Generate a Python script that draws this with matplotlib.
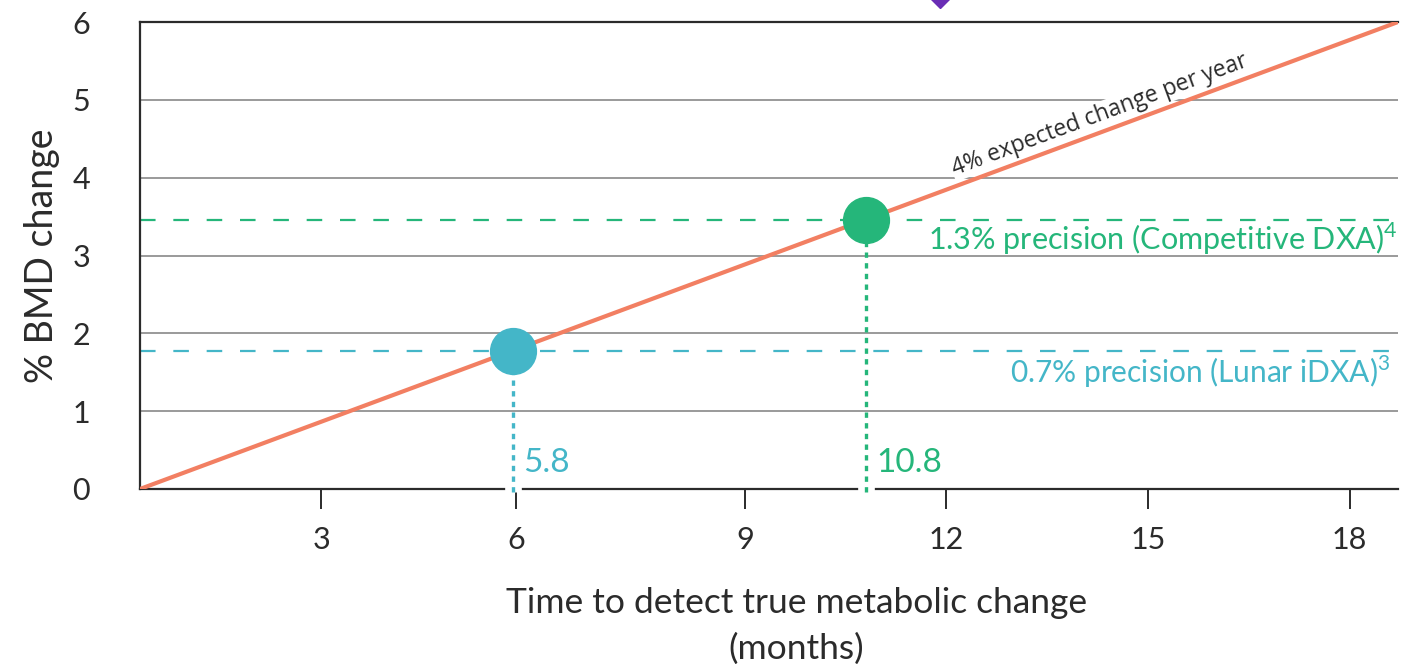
import matplotlib
matplotlib.use("Agg")
import matplotlib.pyplot as plt
import numpy as np

plt.rcParams['font.family'] = ['Lato', 'DejaVu Sans']
plt.rcParams['mathtext.fontset'] = 'custom'
plt.rcParams['mathtext.rm'] = 'Lato'

# ---- data ----
line_x = [0, 18.72]
line_y = [0, 6.0]
points_x = [5.55, 10.8]
points_y = [1.77, 3.46]
point_labels = ["5.8", "10.8"]
precision_labels = ["0.7% precision (Lunar iDXA)$^{\\mathrm{3}}$",
                    "1.3% precision (Competitive DXA)$^{\\mathrm{4}}$"]
purple_x = [11.9]
purple_y = [6.39]
xtick_pos = [2.7, 5.6, 9, 12, 15, 18]
xtick_labels = ["3", "6", "9", "12", "15", "18"]
ytick_pos = [0, 1, 2, 3, 4, 5, 6]
ytick_labels = ["0", "1", "2", "3", "4", "5", "6"]

ORANGE = "#F27F62"
BLUE = "#44B6C8"
GREEN = "#25B67A"
PURPLE = "#6A2DB5"
DARK = "#2b2b2b"

fig = plt.figure(figsize=(14.24, 6.64), dpi=100)
ax = fig.add_axes([140/1424, 1-489/664, 1258/1424, 467/664])
ax.set_xlim(0, 18.72)
ax.set_ylim(0, 6)

ax.spines['right'].set_visible(False)
for s in ['left', 'bottom', 'top']:
    ax.spines[s].set_color(DARK)
    ax.spines[s].set_linewidth(1.6)

# gridlines
for y in ytick_pos[1:-1]:
    ax.axhline(y, color="#9a9a9a", lw=1.4, zorder=1)

ax.set_yticks(ytick_pos)
ax.set_yticklabels(ytick_labels, fontsize=22, color=DARK)
ax.tick_params(axis='y', length=0, pad=36)
ax.set_xticks(xtick_pos)
ax.set_xticklabels(xtick_labels, fontsize=22, color=DARK)
ax.tick_params(axis='x', length=14.5, width=1.4, color=DARK, pad=12, direction='out')

# dashed precision lines
colors = [BLUE, GREEN]
for py, c in zip(points_y, colors):
    ax.axhline(py, color=c, lw=1.6, ls=(0, (7, 8)), zorder=2)

# expected change line
ax.plot(line_x, line_y, color=ORANGE, lw=3, zorder=3, solid_capstyle='round')

# vertical dotted lines + gaps on axis
for px, py, c, lab in zip(points_x, points_y, colors, point_labels):
    ax.plot([px, px], [-0.035, 0.035], color='white', lw=12, zorder=3.5, clip_on=False,
            solid_capstyle='butt')
    ax.plot([px, px], [-0.04, py], color=c, lw=2.4, ls=(0, (1.6, 1.6)), zorder=4, clip_on=False)
    ax.plot([px], [py], 'o', color=c, ms=33, zorder=5)
    ax.text(px + 0.15, 0.33, lab, color=c, fontsize=24, va='center', ha='left')

# precision labels
ax.text(18.6, 1.5, precision_labels[0], color=BLUE, fontsize=21.5, ha='right', va='center')
ax.text(18.72, 3.22, precision_labels[1], color=GREEN, fontsize=22, ha='right', va='center')

# annotation along line
ax.text(12.12, 4.03, "4% expected change per year", family=['Open Sans', 'DejaVu Sans'],
        fontsize=16.5, rotation=20.4, rotation_mode='anchor', ha='left', va='baseline', color=DARK,
        bbox=dict(facecolor='white', edgecolor='none', pad=0.5), zorder=2.5)

# purple marker cut by the figure edge
ax.plot(purple_x, purple_y, 'D', color=PURPLE, ms=16, clip_on=False, zorder=6)

ax.set_ylabel("% BMD change", fontsize=27, color=DARK)
ax.yaxis.set_label_coords(-80/1258, 0.5)
ax.text(0.522, -0.21, "Time to detect true metabolic change\n(months)", transform=ax.transAxes,
        fontsize=25.5, color=DARK, ha='center', va='top', linespacing=1.5)

fig.savefig("out.png", dpi=100)
